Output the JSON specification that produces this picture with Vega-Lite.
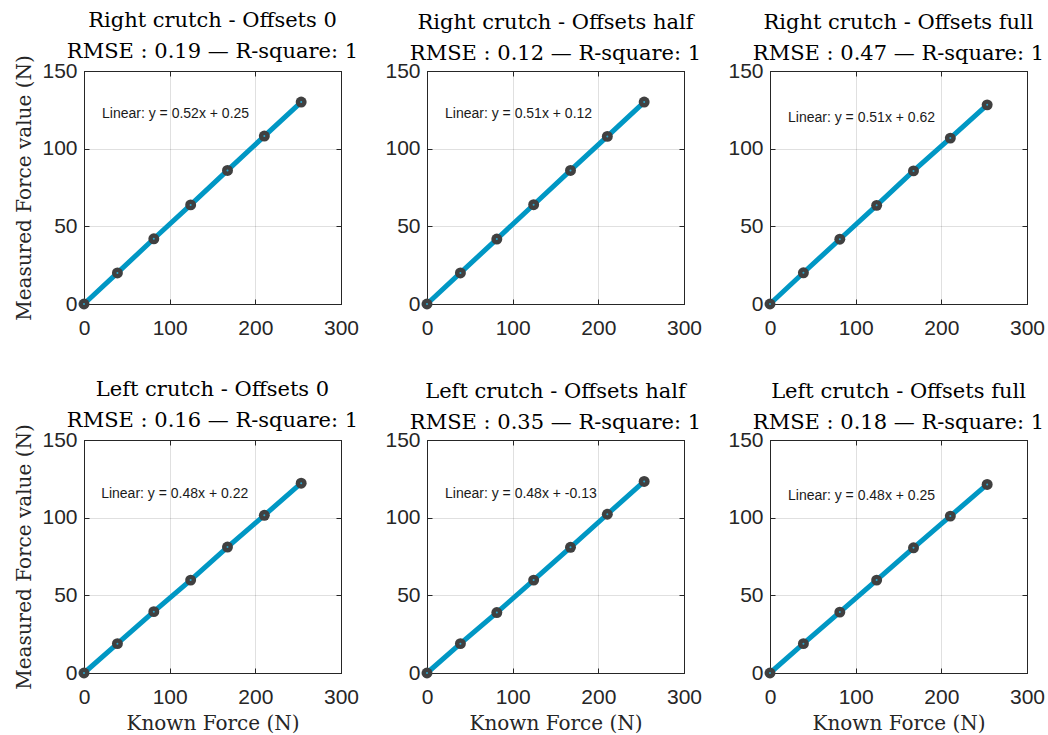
{
  "$schema": "https://vega.github.io/schema/vega-lite/v6.json",
  "background": "white",
  "padding": {"left": 14, "top": 9, "right": 5, "bottom": 5},
  "bounds": "flush",
  "columns": 3,
  "spacing": {"row": 136, "column": 86},
  "config": {
    "view": {"stroke": "#262626", "strokeWidth": 1},
    "axis": {
      "labelFont": "Liberation Sans", "labelFontSize": 21, "labelColor": "#262626",
      "domainColor": "#262626", "tickColor": "#262626", "tickSize": -5,
      "gridColor": "#000000", "gridOpacity": 0.12, "titleFont": "DejaVu Serif", "titleFontSize": 20,
      "titleFontWeight": "normal", "titleColor": "#262626", "labelFlush": false, "labelOverlap": false
    },
    "axisX": {"labelPadding": 18, "titlePadding": 6},
    "axisY": {"labelPadding": 12, "titlePadding": 7},
    "title": {"font": "DejaVu Serif", "fontSize": 21, "fontWeight": "normal", "color": "#000000", "lineHeight": 31, "offset": -4, "anchor": "middle", "frame": "group"}
  },
  "concat": [
    {
      "width": 257, "height": 233,
      "title": {"text": ["Right crutch - Offsets 0", "RMSE : 0.19 — R-square: 1"], "offset": -7},
      "data": {"values": [{"x":0,"y":0},{"x":39,"y":20.0},{"x":81.5,"y":42.0},{"x":124.5,"y":63.8},{"x":167.5,"y":86.0},{"x":210.5,"y":108.1},{"x":253.5,"y":130.0}]},
      "resolve": {"axis": {"x": "independent", "y": "independent"}},
      "layer": [
        {"mark": {"type": "line", "color": "#0097c4", "strokeWidth": 5},
         "encoding": {
           "x": {"field": "x", "type": "quantitative", "scale": {"domain": [0, 300], "nice": false}, "axis": {"values": [0,100,200,300], "title": null}},
           "y": {"field": "y", "type": "quantitative", "scale": {"domain": [0, 150], "nice": false}, "axis": {"values": [0,50,100,150], "title": "Measured Force value (N)"}}
         }},
        {"mark": {"type": "point", "filled": true, "color": "#404040", "size": 120, "opacity": 1},
         "encoding": {"x": {"field": "x", "type": "quantitative", "axis": null}, "y": {"field": "y", "type": "quantitative", "axis": null}}},
        {"mark": {"type": "point", "filled": true, "color": "#2aa8d0", "size": 4, "opacity": 1},
         "encoding": {
           "x": {"field": "x", "type": "quantitative", "axis": {"orient": "top", "values": [0,100,200,300], "labels": false, "grid": false, "title": null}},
           "y": {"field": "y", "type": "quantitative", "axis": {"orient": "right", "values": [0,50,100,150], "labels": false, "grid": false, "title": null}}
         }},
        {"data": {"values": [{"label": "Linear: y = 0.52x + 0.25"}]}, "mark": {"type": "text", "align": "left", "baseline": "middle", "font": "Liberation Sans", "fontSize": 14, "color": "#1a1a1a"}, "encoding": {"x": {"datum": 21, "axis": null}, "y": {"datum": 122, "axis": null}, "text": {"field": "label"}}}
      ]
    },
    {
      "width": 257, "height": 233,
      "title": {"text": ["Right crutch - Offsets half", "RMSE : 0.12 — R-square: 1"]},
      "data": {"values": [{"x":0,"y":0},{"x":39,"y":20.0},{"x":81.5,"y":41.8},{"x":124.5,"y":63.9},{"x":167.5,"y":86.0},{"x":210.5,"y":107.9},{"x":253.5,"y":130.0}]},
      "resolve": {"axis": {"x": "independent", "y": "independent"}},
      "layer": [
        {"mark": {"type": "line", "color": "#0097c4", "strokeWidth": 5},
         "encoding": {
           "x": {"field": "x", "type": "quantitative", "scale": {"domain": [0, 300], "nice": false}, "axis": {"values": [0,100,200,300], "title": null}},
           "y": {"field": "y", "type": "quantitative", "scale": {"domain": [0, 150], "nice": false}, "axis": {"values": [0,50,100,150], "title": null}}
         }},
        {"mark": {"type": "point", "filled": true, "color": "#404040", "size": 120, "opacity": 1},
         "encoding": {"x": {"field": "x", "type": "quantitative", "axis": null}, "y": {"field": "y", "type": "quantitative", "axis": null}}},
        {"mark": {"type": "point", "filled": true, "color": "#2aa8d0", "size": 4, "opacity": 1},
         "encoding": {
           "x": {"field": "x", "type": "quantitative", "axis": {"orient": "top", "values": [0,100,200,300], "labels": false, "grid": false, "title": null}},
           "y": {"field": "y", "type": "quantitative", "axis": {"orient": "right", "values": [0,50,100,150], "labels": false, "grid": false, "title": null}}
         }},
        {"data": {"values": [{"label": "Linear: y = 0.51x + 0.12"}]}, "mark": {"type": "text", "align": "left", "baseline": "middle", "font": "Liberation Sans", "fontSize": 14, "color": "#1a1a1a"}, "encoding": {"x": {"datum": 21, "axis": null}, "y": {"datum": 122, "axis": null}, "text": {"field": "label"}}}
      ]
    },
    {
      "width": 257, "height": 233,
      "title": {"text": ["Right crutch - Offsets full", "RMSE : 0.47 — R-square: 1"]},
      "data": {"values": [{"x":0,"y":0},{"x":39,"y":20.1},{"x":81.5,"y":41.7},{"x":124.5,"y":63.5},{"x":167.5,"y":85.7},{"x":210.5,"y":106.8},{"x":253.5,"y":128.2}]},
      "resolve": {"axis": {"x": "independent", "y": "independent"}},
      "layer": [
        {"mark": {"type": "line", "color": "#0097c4", "strokeWidth": 5},
         "encoding": {
           "x": {"field": "x", "type": "quantitative", "scale": {"domain": [0, 300], "nice": false}, "axis": {"values": [0,100,200,300], "title": null}},
           "y": {"field": "y", "type": "quantitative", "scale": {"domain": [0, 150], "nice": false}, "axis": {"values": [0,50,100,150], "title": null}}
         }},
        {"mark": {"type": "point", "filled": true, "color": "#404040", "size": 120, "opacity": 1},
         "encoding": {"x": {"field": "x", "type": "quantitative", "axis": null}, "y": {"field": "y", "type": "quantitative", "axis": null}}},
        {"mark": {"type": "point", "filled": true, "color": "#2aa8d0", "size": 4, "opacity": 1},
         "encoding": {
           "x": {"field": "x", "type": "quantitative", "axis": {"orient": "top", "values": [0,100,200,300], "labels": false, "grid": false, "title": null}},
           "y": {"field": "y", "type": "quantitative", "axis": {"orient": "right", "values": [0,50,100,150], "labels": false, "grid": false, "title": null}}
         }},
        {"data": {"values": [{"label": "Linear: y = 0.51x + 0.62"}]}, "mark": {"type": "text", "align": "left", "baseline": "middle", "font": "Liberation Sans", "fontSize": 14, "color": "#1a1a1a"}, "encoding": {"x": {"datum": 21, "axis": null}, "y": {"datum": 120, "axis": null}, "text": {"field": "label"}}}
      ]
    },
    {
      "width": 257, "height": 233,
      "title": {"text": ["Left crutch - Offsets 0", "RMSE : 0.16 — R-square: 1"], "offset": -7},
      "data": {"values": [{"x":0,"y":0},{"x":39,"y":18.9},{"x":81.5,"y":39.5},{"x":124.5,"y":59.8},{"x":167.5,"y":81.1},{"x":210.5,"y":101.5},{"x":253.5,"y":122.2}]},
      "resolve": {"axis": {"x": "independent", "y": "independent"}},
      "layer": [
        {"mark": {"type": "line", "color": "#0097c4", "strokeWidth": 5},
         "encoding": {
           "x": {"field": "x", "type": "quantitative", "scale": {"domain": [0, 300], "nice": false}, "axis": {"values": [0,100,200,300], "title": "Known Force (N)"}},
           "y": {"field": "y", "type": "quantitative", "scale": {"domain": [0, 150], "nice": false}, "axis": {"values": [0,50,100,150], "title": "Measured Force value (N)"}}
         }},
        {"mark": {"type": "point", "filled": true, "color": "#404040", "size": 120, "opacity": 1},
         "encoding": {"x": {"field": "x", "type": "quantitative", "axis": null}, "y": {"field": "y", "type": "quantitative", "axis": null}}},
        {"mark": {"type": "point", "filled": true, "color": "#2aa8d0", "size": 4, "opacity": 1},
         "encoding": {
           "x": {"field": "x", "type": "quantitative", "axis": {"orient": "top", "values": [0,100,200,300], "labels": false, "grid": false, "title": null}},
           "y": {"field": "y", "type": "quantitative", "axis": {"orient": "right", "values": [0,50,100,150], "labels": false, "grid": false, "title": null}}
         }},
        {"data": {"values": [{"label": "Linear: y = 0.48x + 0.22"}]}, "mark": {"type": "text", "align": "left", "baseline": "middle", "font": "Liberation Sans", "fontSize": 14, "color": "#1a1a1a"}, "encoding": {"x": {"datum": 20, "axis": null}, "y": {"datum": 115, "axis": null}, "text": {"field": "label"}}}
      ]
    },
    {
      "width": 257, "height": 233,
      "title": {"text": ["Left crutch - Offsets half", "RMSE : 0.35 — R-square: 1"]},
      "data": {"values": [{"x":0,"y":0},{"x":39,"y":18.9},{"x":81.5,"y":38.9},{"x":124.5,"y":59.8},{"x":167.5,"y":80.9},{"x":210.5,"y":102.2},{"x":253.5,"y":123.3}]},
      "resolve": {"axis": {"x": "independent", "y": "independent"}},
      "layer": [
        {"mark": {"type": "line", "color": "#0097c4", "strokeWidth": 5},
         "encoding": {
           "x": {"field": "x", "type": "quantitative", "scale": {"domain": [0, 300], "nice": false}, "axis": {"values": [0,100,200,300], "title": "Known Force (N)"}},
           "y": {"field": "y", "type": "quantitative", "scale": {"domain": [0, 150], "nice": false}, "axis": {"values": [0,50,100,150], "title": null}}
         }},
        {"mark": {"type": "point", "filled": true, "color": "#404040", "size": 120, "opacity": 1},
         "encoding": {"x": {"field": "x", "type": "quantitative", "axis": null}, "y": {"field": "y", "type": "quantitative", "axis": null}}},
        {"mark": {"type": "point", "filled": true, "color": "#2aa8d0", "size": 4, "opacity": 1},
         "encoding": {
           "x": {"field": "x", "type": "quantitative", "axis": {"orient": "top", "values": [0,100,200,300], "labels": false, "grid": false, "title": null}},
           "y": {"field": "y", "type": "quantitative", "axis": {"orient": "right", "values": [0,50,100,150], "labels": false, "grid": false, "title": null}}
         }},
        {"data": {"values": [{"label": "Linear: y = 0.48x + -0.13"}]}, "mark": {"type": "text", "align": "left", "baseline": "middle", "font": "Liberation Sans", "fontSize": 14, "color": "#1a1a1a"}, "encoding": {"x": {"datum": 21, "axis": null}, "y": {"datum": 115, "axis": null}, "text": {"field": "label"}}}
      ]
    },
    {
      "width": 257, "height": 233,
      "title": {"text": ["Left crutch - Offsets full", "RMSE : 0.18 — R-square: 1"]},
      "data": {"values": [{"x":0,"y":0},{"x":39,"y":18.9},{"x":81.5,"y":39.2},{"x":124.5,"y":59.8},{"x":167.5,"y":80.6},{"x":210.5,"y":101.0},{"x":253.5,"y":121.4}]},
      "resolve": {"axis": {"x": "independent", "y": "independent"}},
      "layer": [
        {"mark": {"type": "line", "color": "#0097c4", "strokeWidth": 5},
         "encoding": {
           "x": {"field": "x", "type": "quantitative", "scale": {"domain": [0, 300], "nice": false}, "axis": {"values": [0,100,200,300], "title": "Known Force (N)"}},
           "y": {"field": "y", "type": "quantitative", "scale": {"domain": [0, 150], "nice": false}, "axis": {"values": [0,50,100,150], "title": null}}
         }},
        {"mark": {"type": "point", "filled": true, "color": "#404040", "size": 120, "opacity": 1},
         "encoding": {"x": {"field": "x", "type": "quantitative", "axis": null}, "y": {"field": "y", "type": "quantitative", "axis": null}}},
        {"mark": {"type": "point", "filled": true, "color": "#2aa8d0", "size": 4, "opacity": 1},
         "encoding": {
           "x": {"field": "x", "type": "quantitative", "axis": {"orient": "top", "values": [0,100,200,300], "labels": false, "grid": false, "title": null}},
           "y": {"field": "y", "type": "quantitative", "axis": {"orient": "right", "values": [0,50,100,150], "labels": false, "grid": false, "title": null}}
         }},
        {"data": {"values": [{"label": "Linear: y = 0.48x + 0.25"}]}, "mark": {"type": "text", "align": "left", "baseline": "middle", "font": "Liberation Sans", "fontSize": 14, "color": "#1a1a1a"}, "encoding": {"x": {"datum": 21, "axis": null}, "y": {"datum": 114, "axis": null}, "text": {"field": "label"}}}
      ]
    }
  ]
}
